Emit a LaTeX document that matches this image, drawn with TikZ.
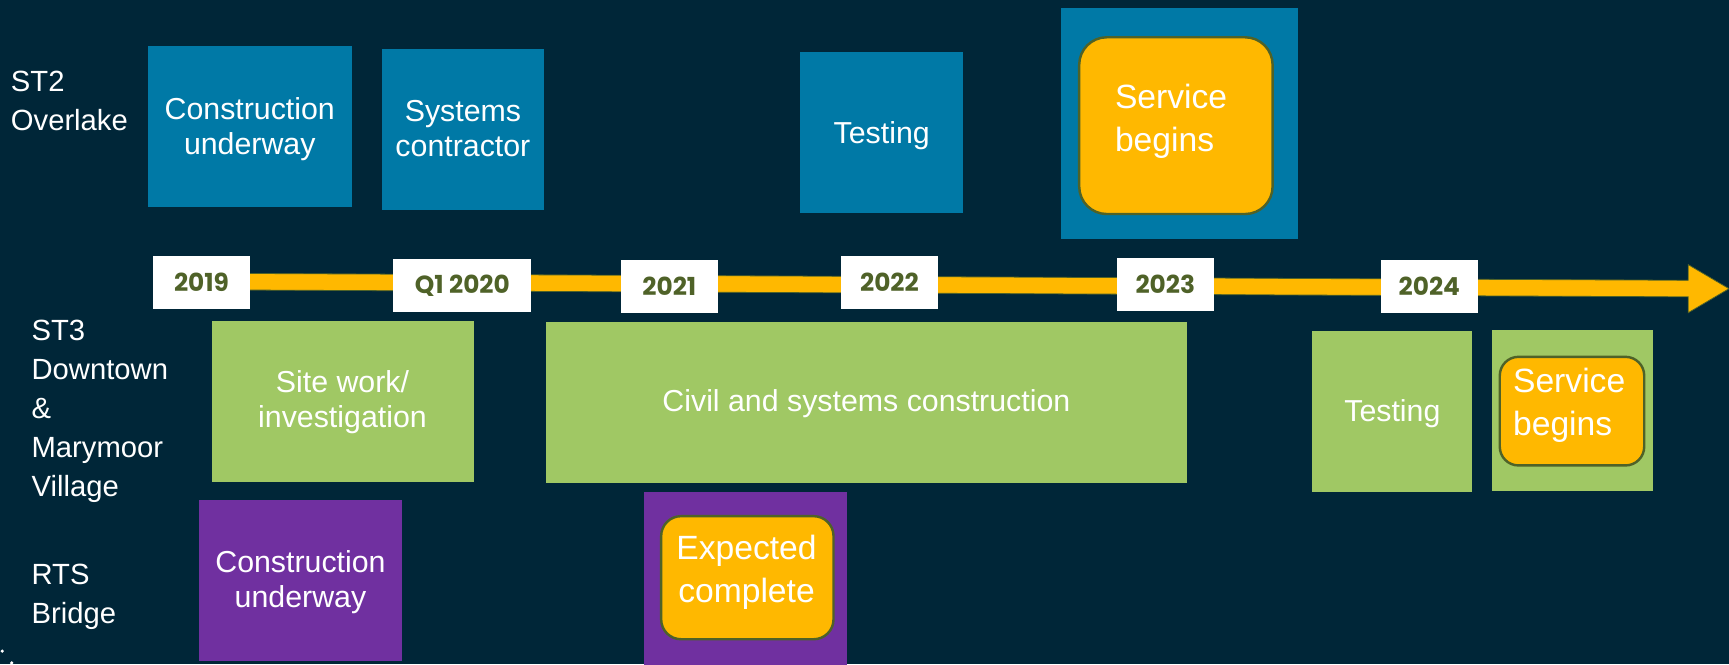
\documentclass[tikz,border=0pt]{standalone}
\usepackage{fontspec}
\setmainfont{Liberation Sans}
\newfontfamily\yearfont{Poppins}
\definecolor{bg}{HTML}{002638}
\definecolor{stblue}{HTML}{0079A6}
\definecolor{stgreen}{HTML}{A0C864}
\definecolor{stpurple}{HTML}{7030A0}
\definecolor{storange}{HTML}{FFB800}
\definecolor{olive}{HTML}{4F6228}
\tikzset{
  blk/.style={inner sep=0pt, outer sep=0pt, anchor=north west},
  lbl/.style={font=\fontsize{26.5}{35.3}\selectfont, text=white, align=left, anchor=base west, inner sep=0pt},
  btxt/.style={font=\fontsize{27.5}{32}\selectfont, text=white, align=center, anchor=base, inner sep=0pt},
  otxt/.style={font=\fontsize{30.5}{38.8}\selectfont, text=white, inner sep=0pt},
  yearbox/.style={fill=white, inner sep=0pt, outer sep=0pt, anchor=north west},
  yeartxt/.style={font=\yearfont\bfseries\fontsize{22.5}{26}\selectfont, text=olive, inner sep=0pt},
  pill/.style={fill=storange, draw=olive, line width=2.2pt, inner sep=0pt, anchor=north west},
}
\begin{document}
\begin{tikzpicture}[x=1pt,y=-1pt]
\useasboundingbox (0,0) rectangle (1568,602.2);
\fill[bg] (0,0) rectangle (1568,602.2);

% row labels (anchored at the baseline of the last line)
\node[lbl] (lst2) at (9.7,118.5) {ST2\\Overlake};
\node[lbl] (lst3) at (28.5,450.4) {ST3\\Downtown\\\&\\Marymoor\\Village};
\node[lbl] (lrts) at (28.5,565.3) {RTS\\Bridge};

% ST2 blue boxes
\node[blk, fill=stblue, minimum width=185pt, minimum height=146pt] (b1) at (134.3,41.7) {};
\node[btxt] (b1t) at (226.5,140) {Construction\\underway};
\node[blk, fill=stblue, minimum width=147pt, minimum height=146pt] (b2) at (346.4,44.4) {};
\node[btxt] (b2t) at (419.8,142) {Systems\\contractor};
\node[blk, fill=stblue, minimum width=148pt, minimum height=146pt] (b3) at (725.5,47) {};
\node[btxt] (b3t) at (799.6,130) {Testing};
\node[blk, fill=stblue, minimum width=215.5pt, minimum height=209.7pt] (b4) at (962,7.3) {};
\node[pill, rounded corners=25pt, minimum width=175.4pt, minimum height=160.3pt] (o4) at (977.6,32.7) {};
\node[otxt, align=left, anchor=base west] (o4t) at (1011,137.5) {Service\\begins};

% timeline
\coordinate (ta) at (200,255.4);
\coordinate (tb) at (1531,261.7);
\filldraw[fill=storange, draw=olive, line width=0.7pt]
  (200,247.9) -- (1531,254.2) -- (1531,240) -- (1568,261.8) -- (1531,283.6)
  -- (1531,269.2) -- (200,262.9) -- cycle;

\node[yearbox, minimum width=87.5pt, minimum height=48pt] (y1) at (139,232) {};
\node[yeartxt] at (y1.center) {2019};
\node[yearbox, minimum width=125.4pt, minimum height=47.7pt] (y2) at (356.6,235) {};
\node[yeartxt] at (y2.center) {Q1 2020};
\node[yearbox, minimum width=88pt, minimum height=47.6pt] (y3) at (563,236) {};
\node[yeartxt] at (y3.center) {2021};
\node[yearbox, minimum width=88.2pt, minimum height=48pt] (y4) at (762.5,232) {};
\node[yeartxt] at (y4.center) {2022};
\node[yearbox, minimum width=87.6pt, minimum height=47.7pt] (y5) at (1013,234) {};
\node[yeartxt] at (y5.center) {2023};
\node[yearbox, minimum width=87.5pt, minimum height=47.6pt] (y6) at (1252.5,236) {};
\node[yeartxt] at (y6.center) {2024};

% ST3 green boxes
\node[blk, fill=stgreen, minimum width=238pt, minimum height=146pt] (g1) at (192,291) {};
\node[btxt] (g1t) at (310.6,388) {Site work/\\investigation};
\node[blk, fill=stgreen, minimum width=581.5pt, minimum height=145.7pt] (g2) at (495,292) {};
\node[btxt] (g2t) at (785.7,373) {Civil and systems construction};
\node[blk, fill=stgreen, minimum width=145pt, minimum height=146pt] (g3) at (1190,300) {};
\node[btxt] (g3t) at (1262.7,382.4) {Testing};
\node[blk, fill=stgreen, minimum width=145.7pt, minimum height=146pt] (g4) at (1353,299) {};
\node[pill, rounded corners=17pt, minimum width=131pt, minimum height=98.5pt] (og4) at (1359,322.5) {};
\node[otxt, align=left, anchor=base west] (og4t) at (1372,394.5) {Service\\begins};

% RTS purple boxes
\node[blk, fill=stpurple, minimum width=184.5pt, minimum height=145.5pt] (p1) at (180.5,453.5) {};
\node[btxt] (p1t) at (272.5,551) {Construction\\underway};
\node[blk, fill=stpurple, minimum width=183.8pt, minimum height=160pt] (p2) at (584,446) {};
\node[pill, rounded corners=18pt, minimum width=156.3pt, minimum height=111.6pt] (op2) at (598.5,467) {};
\node[otxt, align=center, anchor=base] (op2t) at (677,546.5) {Expected\\complete};

% small marks at bottom left
\fill[white] (2,590.5) circle (1.6);
\fill[white] (10.6,601.2) circle (1.6);
\end{tikzpicture}
\end{document}
